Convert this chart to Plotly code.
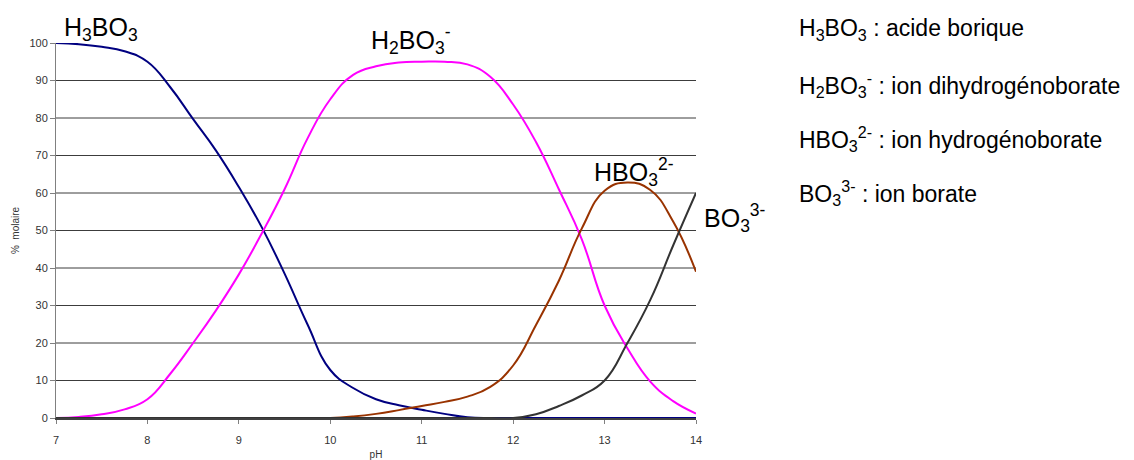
import plotly.graph_objects as go

# ---------------- data ----------------
ph = [7.0, 7.25, 7.5, 7.75, 8.0, 8.25, 8.5, 8.75, 9.0, 9.25, 9.5, 9.75,
      10.0, 10.25, 10.5, 10.75, 11.0, 11.25, 11.5, 11.75, 12.0, 12.25,
      12.5, 12.75, 13.0, 13.25, 13.5, 13.75, 14.0]

h3bo3 = [100, 99.7, 99.0, 97.8, 95.0, 88.2, 79.7, 71.3, 61.6, 50.9, 38.5, 25.0,
         12.8, 8.0, 5.0, 3.4, 2.2, 1.1, 0.2, 0, 0, 0,
         0, 0, 0, 0, 0, 0, 0]

h2bo3 = [0, 0.3, 1.0, 2.3, 5.0, 11.8, 20.0, 28.7, 38.3, 49.2, 61.0, 74.5,
         85.0, 91.5, 93.8, 94.8, 95.0, 95.0, 94.3, 91.0, 83.6, 73.6,
         61.0, 47.7, 30.0, 18.6, 9.7, 4.5, 1.2]

hbo3 = [0, 0, 0, 0, 0, 0, 0, 0, 0, 0, 0, 0,
        0, 0.4, 1.1, 2.1, 3.2, 4.3, 5.7, 8.3, 14.0, 24.8,
        36.6, 50.5, 60.6, 62.8, 60.8, 52.4, 39.0]

bo3 = [0, 0, 0, 0, 0, 0, 0, 0, 0, 0, 0, 0,
       0, 0, 0, 0, 0, 0, 0, 0, 0, 1.0,
       3.2, 6.0, 10.0, 20.0, 31.5, 46.0, 60.0]

series_names = ["H3BO3", "H2BO3-", "HBO3 2-", "BO3 3-"]
series_values = [h3bo3, h2bo3, hbo3, bo3]
series_colors = ["#000080", "#FF00FF", "#993300", "#333333"]

x_ticks = [7, 8, 9, 10, 11, 12, 13, 14]
y_ticks = [0, 10, 20, 30, 40, 50, 60, 70, 80, 90, 100]
grid_values = [10, 20, 30, 40, 50, 60, 70, 80, 90]

# label text, paper x (left), paper y (middle)
curve_labels = [
    ("H<sub>3</sub>BO<sub>3</sub>", 0.009, 1.037),
    ("H<sub>2</sub>BO<sub>3</sub><sup>-</sup>", 0.489, 1.008),
    ("HBO<sub>3</sub><sup>2-</sup>", 0.8375, 0.656),
    ("BO<sub>3</sub><sup>3-</sup>", 1.009, 0.533),
]

legend_lines = [
    "H<sub>3</sub>BO<sub>3</sub> : acide borique",
    "H<sub>2</sub>BO<sub>3</sub><sup>-</sup> : ion dihydrogénoborate",
    "HBO<sub>3</sub><sup>2-</sup> : ion hydrogénoborate",
    "BO<sub>3</sub><sup>3-</sup> : ion borate",
]
legend_y = [1.036, 0.889, 0.743, 0.599]

# ---------------- figure ----------------
fig = go.Figure()
for name, vals, col in zip(series_names, series_values, series_colors):
    fig.add_trace(go.Scatter(
        x=ph, y=vals, mode="lines", name=name,
        line=dict(color=col, width=2, shape="spline", smoothing=1.3),
        showlegend=False, cliponaxis=True,
    ))

shapes = []
for g in grid_values:
    shapes.append(dict(type="line", xref="paper", x0=0, x1=1, yref="y", y0=g, y1=g,
                       line=dict(color="#3c3c3c", width=1), layer="below"))

annotations = []
label_font = dict(family="Liberation Sans, Arial, sans-serif", size=25, color="#000000")
for txt, xv, yv in curve_labels:
    annotations.append(dict(text=txt, x=xv, y=yv, xref="paper", yref="paper",
                            xanchor="left", yanchor="middle", showarrow=False,
                            font=label_font))

legend_font = dict(family="Liberation Sans, Arial, sans-serif", size=23, color="#000000")
for txt, yy in zip(legend_lines, legend_y):
    annotations.append(dict(text=txt, x=1.158, y=yy, xref="paper", yref="paper",
                            xanchor="left", yanchor="middle", showarrow=False,
                            font=legend_font))

fig.update_layout(
    width=1134, height=460,
    margin=dict(l=56, r=438, t=43, b=42, pad=0, autoexpand=False),
    paper_bgcolor="white", plot_bgcolor="white",
    shapes=shapes, annotations=annotations,
    font=dict(family="Liberation Sans, Arial, sans-serif", size=11, color="#333333"),
    xaxis=dict(range=[7, 14], tickvals=x_ticks, ticktext=[str(t) for t in x_ticks],
               automargin=False,
               showgrid=False, zeroline=False, showline=True, linecolor="#404040", linewidth=2,
               ticks="outside", ticklen=4, tickcolor="#808080", tickwidth=1,
               ticklabelstandoff=7,
               tickfont=dict(size=11, color="#333333"),
               title=dict(text="pH", font=dict(size=10, color="#333333"), standoff=16)),
    yaxis=dict(range=[0, 100], tickvals=y_ticks, ticktext=[str(t) for t in y_ticks],
               automargin=False,
               showgrid=False, zeroline=False, showline=True, linecolor="#808080", linewidth=1,
               ticks="outside", ticklen=5, tickcolor="#808080", tickwidth=1,
               tickfont=dict(size=11, color="#333333"),
               title=dict(text="%  molaire", font=dict(size=10, color="#333333"), standoff=7)),
)

fig.write_html("out.html")
